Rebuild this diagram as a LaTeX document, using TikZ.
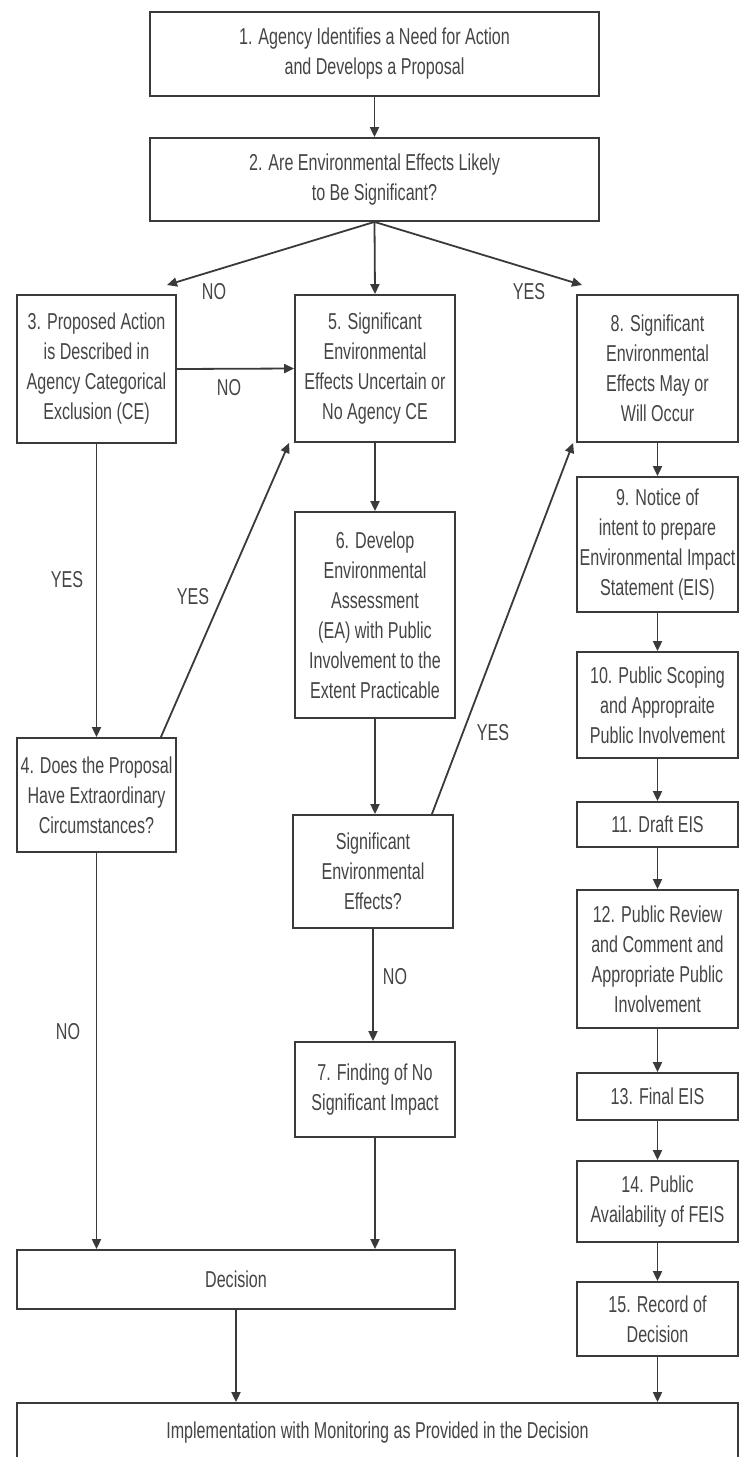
\documentclass[tikz,border=0pt]{standalone}
\usepackage{fontspec}
\setmainfont{Liberation Sans}[FakeStretch=0.70]
\usetikzlibrary{arrows.meta, calc}
\definecolor{boxgray}{HTML}{3A3A3A}
\definecolor{textgray}{HTML}{454545}

\begin{document}
\begin{tikzpicture}[x=1pt, y=-1pt,
    >={Triangle[length=10pt, width=9pt]},
    box/.style={draw=boxgray, line width=1.8pt, inner sep=0pt, align=center,
        text=textgray, font=\fontsize{23}{30}\selectfont},
    link/.style={->, draw=boxgray, line width=1.8pt},
    lbl/.style={text=textgray, font=\fontsize{23}{30}\selectfont}]

    % Page frame
    \clip (0,0) rectangle (746,1457);
    \fill[white] (0,0) rectangle (746,1457);

    % Draw the top boxes
    \node[box, minimum width=449pt, minimum height=84pt] (n1) at (374.5,54)
        {1. Agency Identifies a Need for Action\\and Develops a Proposal};
    \node[box, minimum width=449pt, minimum height=83pt] (n2) at (374.5,179.5)
        {2. Are Environmental Effects Likely\\to Be Significant?};

    % Draw the left column
    \node[box, minimum width=159pt, minimum height=148pt] (n3) at (96.5,369)
        {3. Proposed Action\\is Described in\\Agency Categorical\\Exclusion (CE)};
    \node[box, minimum width=159pt, minimum height=114pt] (n4) at (96.5,795)
        {4. Does the Proposal\\Have Extraordinary\\Circumstances?};

    % Draw the middle column
    \node[box, minimum width=160pt, minimum height=147pt] (n5) at (375,368.5)
        {5. Significant\\Environmental\\Effects Uncertain or\\No Agency CE};
    \node[box, minimum width=160pt, minimum height=206pt] (n6) at (375,615)
        {6. Develop\\Environmental\\Assessment\\(EA) with Public\\Involvement to the\\Extent Practicable};
    \node[box, minimum width=160pt, minimum height=113pt] (nsig) at (373,871.5)
        {Significant\\Environmental\\Effects?};
    \node[box, minimum width=160pt, minimum height=95pt] (n7) at (375,1089.5)
        {7. Finding of No\\Significant Impact};

    % Draw the right column
    \node[box, minimum width=161pt, minimum height=147pt] (n8) at (657.5,368.5)
        {8. Significant\\Environmental\\Effects May or\\Will Occur};
    \node[box, minimum width=161pt, minimum height=135pt] (n9) at (657.5,544.5)
        {9. Notice of\\intent to prepare\\Environmental Impact\\Statement (EIS)};
    \node[box, minimum width=161pt, minimum height=106pt] (n10) at (657.5,705)
        {10. Public Scoping\\and Appropraite\\Public Involvement};
    \node[box, minimum width=161pt, minimum height=45pt] (n11) at (657.5,824.5)
        {11. Draft EIS};
    \node[box, minimum width=161pt, minimum height=138pt] (n12) at (657.5,959)
        {12. Public Review\\and Comment and\\Appropriate Public\\Involvement};
    \node[box, minimum width=161pt, minimum height=47pt] (n13) at (657.5,1096.5)
        {13. Final EIS};
    \node[box, minimum width=161pt, minimum height=81pt] (n14) at (657.5,1201.5)
        {14. Public\\Availability of FEIS};
    \node[box, minimum width=161pt, minimum height=74pt] (n15) at (657.5,1319)
        {15. Record of\\Decision};

    % Draw the bottom boxes
    \node[box, minimum width=438pt, minimum height=59pt] (ndec) at (236,1279.5)
        {Decision};
    \node[box, minimum width=721pt, minimum height=60pt] (nfin) at (377.5,1433)
        {Implementation with Monitoring as Provided in the Decision};

    % Draw the arrows
    \coordinate (noend) at (167,285);
    \coordinate (yesend) at (582,285);
    \draw[link] (n1.south) -- (n2.north);
    \draw[link] (n2.south) -- (noend);
    \draw[link] (n2.south) -- (n5.north);
    \draw[link] (n2.south) -- (yesend);
    \draw[link] (n3.east) -- (n5.west);
    \draw[link] (n3.south) -- (n4.north);
    \draw[link] ($(n4.north east)+(-16,0)$) -- ($(n5.south west)+(-5,0)$);
    \draw[link] (n4.south) -- (n4.south |- ndec.north);
    \draw[link] (n5.south) -- (n6.north);
    \draw[link] (n6.south) -- (n6.south |- nsig.north);
    \draw[link] ($(nsig.north east)+(-22,0)$) -- ($(n8.south west)+(-3,0)$);
    \draw[link] (nsig.south) -- (nsig.south |- n7.north);
    \draw[link] (n7.south) -- (n7.south |- ndec.north);
    \draw[link] (ndec.south) -- (ndec.south |- nfin.north);
    \foreach \a/\b in {n8/n9, n9/n10, n10/n11, n11/n12, n12/n13, n13/n14, n14/n15}
        \draw[link] (\a.south) -- (\b.north);
    \draw[link] (n15.south) -- (n15.south |- nfin.north);

    % Label the branches
    \node[lbl] at (214,292) {NO};
    \node[lbl] at (529,292) {YES};
    \node[lbl] at (229,388) {NO};
    \node[lbl] at (67,580) {YES};
    \node[lbl] at (193,597) {YES};
    \node[lbl] at (493,733) {YES};
    \node[lbl] at (395,977) {NO};
    \node[lbl] at (68,1032) {NO};
\end{tikzpicture}
\end{document}
